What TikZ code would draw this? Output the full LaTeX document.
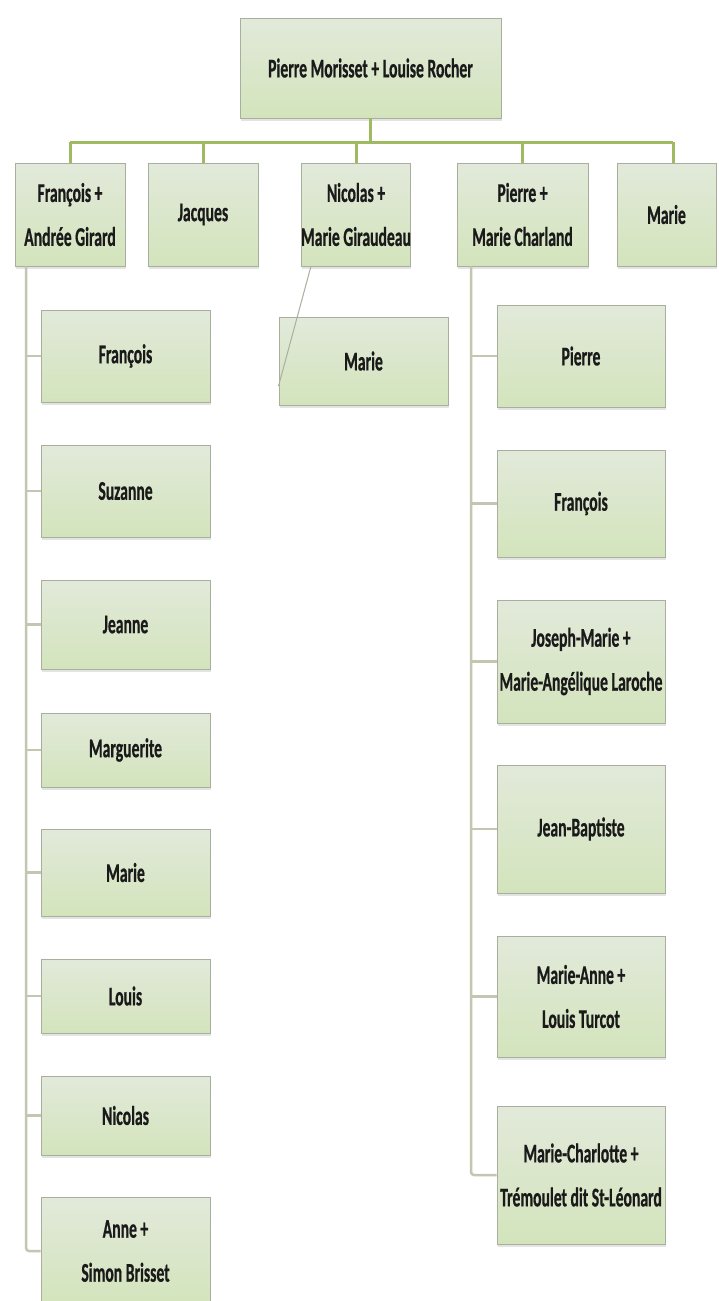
\documentclass[tikz,border=0pt]{standalone}
\usepackage{fontspec}
\newfontfamily\boxfont{Carlito}[FakeStretch=0.58, FakeBold=0.6]
\usetikzlibrary{shadows,calc}
\definecolor{boxtop}{HTML}{E2E9DA}
\definecolor{boxbot}{HTML}{D3E4BC}
\definecolor{boxline}{HTML}{A9AF9E}
\definecolor{busgreen}{HTML}{9FBA63}
\definecolor{colgrey}{HTML}{C5C6B2}
\definecolor{txt}{HTML}{1A1A1A}
\begin{document}
\begin{tikzpicture}[x=1pt,y=-1pt,
 famnode/.style={rectangle, draw=boxline, line width=0.9pt, top color=boxtop, bottom color=boxbot,
   drop shadow={shadow xshift=0.5pt, shadow yshift=-3pt, opacity=0.22},
   text=txt, font=\boxfont\bfseries\fontsize{27}{32}\selectfont, align=center, inner sep=0pt},
 bus/.style={draw=busgreen, line width=3pt},
 colline/.style={draw=colgrey, line width=2.5pt, rounded corners=3pt},
 diag/.style={draw=boxline, line width=1pt},
]
\fill[white] (0,0) rectangle (718,1301);
\useasboundingbox (0,0) rectangle (718,1301);

% top
\node[famnode, minimum width=261pt, minimum height=100pt] (top) at (370.5,68) {Pierre Morisset + Louise Rocher};

% second row
\node[famnode, minimum width=110pt, minimum height=103pt] (fa) at (70,214.5) {François +\\[12pt]Andrée Girard};
\node[famnode, minimum width=110pt, minimum height=103pt] (jac) at (203,214.5) {Jacques};
\node[famnode, minimum width=108pt, minimum height=103pt] (nic) at (356,214.5) {Nicolas +\\[12pt]Marie Giraudeau};
\node[famnode, minimum width=131pt, minimum height=103pt] (pie) at (522.5,214.5) {Pierre +\\[12pt]Marie Charland};
\node[famnode, minimum width=99pt, minimum height=103pt] (mar) at (666.5,214.5) {Marie};

% left children
\node[famnode, minimum width=169pt, minimum height=92pt] (l1) at (125.5,356) {François};
\node[famnode, minimum width=169pt, minimum height=92pt] (l2) at (125.5,491) {Suzanne};
\node[famnode, minimum width=169pt, minimum height=89pt] (l3) at (125.5,624.5) {Jeanne};
\node[famnode, minimum width=169pt, minimum height=74pt] (l4) at (125.5,750) {Marguerite};
\node[famnode, minimum width=169pt, minimum height=87pt] (l5) at (125.5,872.5) {Marie};
\node[famnode, minimum width=169pt, minimum height=74pt] (l6) at (125.5,996) {Louis};
\node[famnode, minimum width=169pt, minimum height=79pt] (l7) at (125.5,1115.5) {Nicolas};
\node[famnode, minimum width=169pt, minimum height=108pt] (l8) at (125.5,1251) {Anne +\\[12pt]Simon Brisset};

% Nicolas child
\node[famnode, minimum width=169pt, minimum height=88pt] (nm) at (363.5,361) {Marie};

% right children
\node[famnode, minimum width=168pt, minimum height=102pt] (r1) at (581,356) {Pierre};
\node[famnode, minimum width=168pt, minimum height=107pt] (r2) at (581,503.5) {François};
\node[famnode, minimum width=168pt, minimum height=123pt] (r3) at (581,661.5) {Joseph-Marie +\\[12pt]Marie-Angélique Laroche};
\node[famnode, minimum width=168pt, minimum height=128pt] (r4) at (581,829) {Jean-Baptiste};
\node[famnode, minimum width=168pt, minimum height=121pt] (r5) at (581,996.5) {Marie-Anne +\\[12pt]Louis Turcot};
\node[famnode, minimum width=168pt, minimum height=138pt] (r6) at (581,1175) {Marie-Charlotte +\\[12pt]Trémoulet dit St-Léonard};

% bus
\coordinate (busL) at (70,142);
\coordinate (busR) at (673,142);
\coordinate (marTop) at (673,163);
\draw[bus] (busL) -- (busR);
\draw[bus] (top.south) -- (top.south |- busL);
\foreach \n in {fa,jac,nic,pie} \draw[bus] (\n.north) -- (\n.north |- busL);
\draw[bus] (marTop) -- (busR);

% left column
\coordinate (lc) at (26,0);
\draw[colline] (lc |- fa.south) -- (lc |- l8.west) -- (l8.west);
\foreach \n in {l1,l2,l3,l4,l5,l6,l7} \draw[colline] (lc |- \n.west) -- (\n.west);

% right column
\coordinate (rc) at (471,0);
\draw[colline] (rc |- pie.south) -- (rc |- r6.west) -- (r6.west);
\foreach \n in {r1,r2,r3,r4,r5} \draw[colline] (rc |- \n.west) -- (\n.west);

% Nicolas diagonal
\draw[diag] ($(nic.south west)!0.093!(nic.south east)$) -- ($(nm.north west)!0.78!(nm.south west)$);
\end{tikzpicture}
\end{document}
